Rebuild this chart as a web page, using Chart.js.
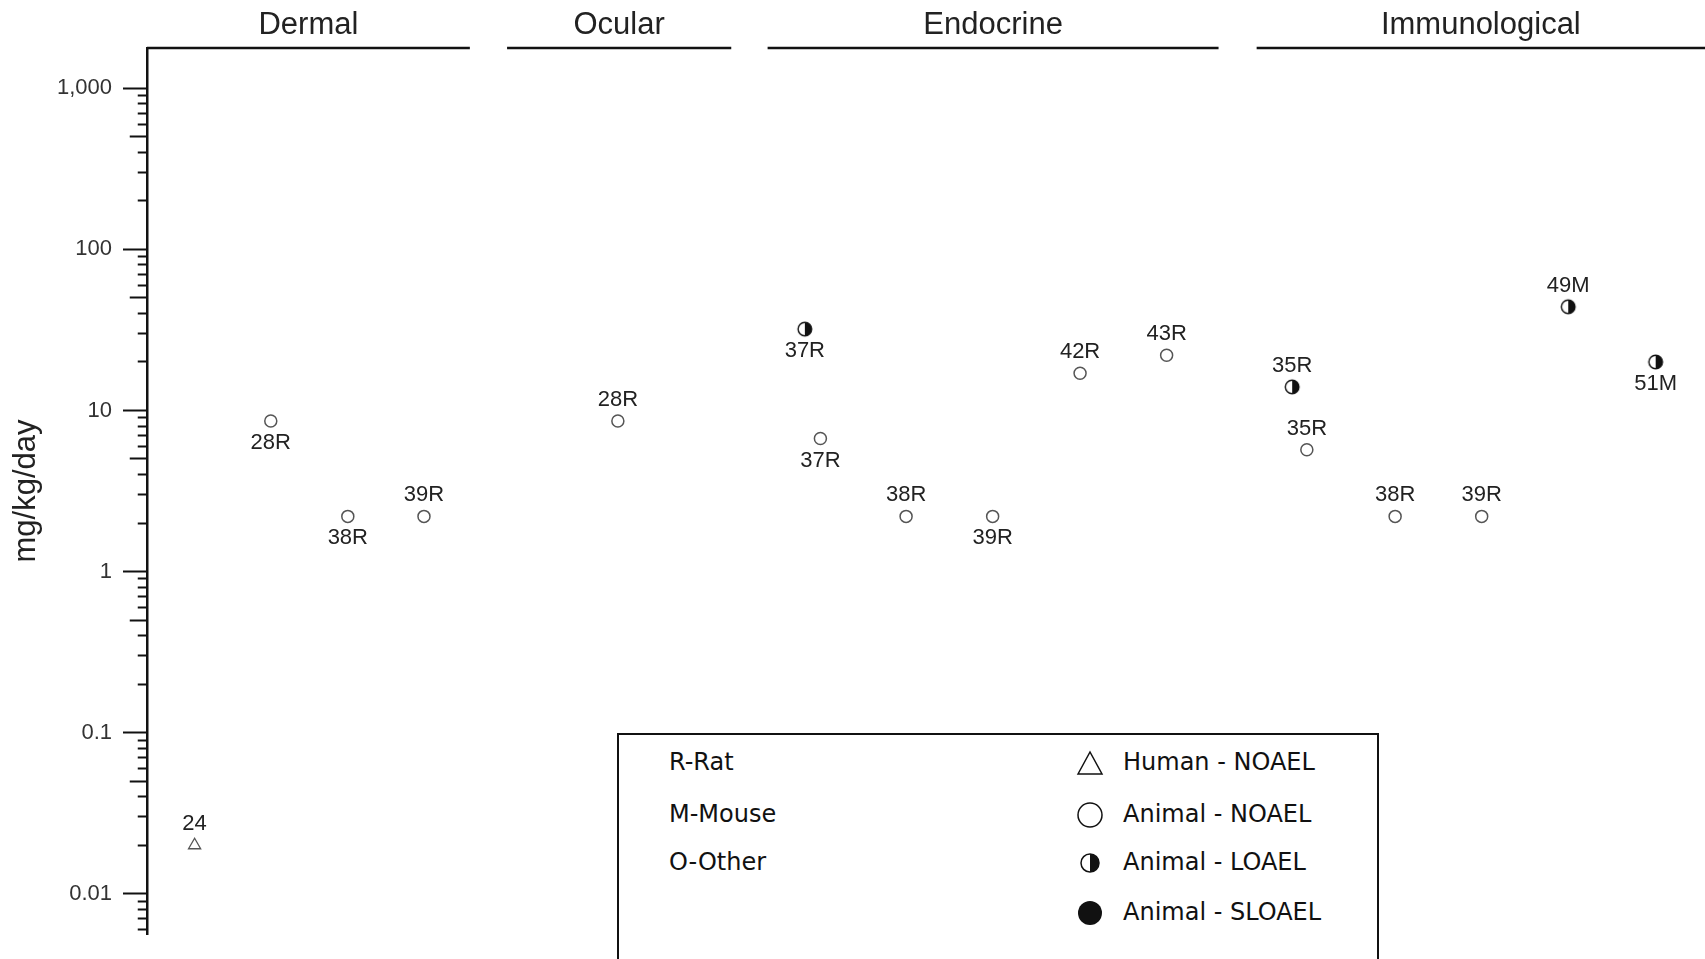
<!DOCTYPE html>
<html>
<head>
<meta charset="utf-8">
<title>Dose levels by endpoint</title>
<script src="https://cdn.jsdelivr.net/npm/chart.js@4.4.1/dist/chart.umd.min.js"></script>
<style>
  html, body { margin: 0; padding: 0; background: #fff; overflow: hidden; }
  #wrap { position: relative; width: 1705px; height: 959px; }
  #chart { position: absolute; left: 0; top: 0; }
  #key {
    position: absolute; left: 617px; top: 733px; width: 758px; height: 260px;
    border: 2px solid #111; background: #fff;
    font-family: "DejaVu Sans", sans-serif; font-size: 24px; color: #111;
  }
  .key-row { position: absolute; height: 30px; line-height: 30px; white-space: nowrap; }
  .key-row svg { position: absolute; top: 0; }
</style>
</head>
<body>
<div id="wrap">
  <canvas id="chart" width="1705" height="959"></canvas>
  <div id="key"></div>
</div>
<script>
// Grupos de endpoints (faixas no eixo x, em colunas)
const groups = ['Dermal', 'Ocular', 'Endocrine', 'Immunological'];
const groupFrom = [0, 4.16, 7.17, 12.82];
const groupTo = [3.73, 6.75, 12.38, 18];

// Um ponto por estudo
const studyX = [0.55, 1.43, 2.32, 3.20, 5.44, 7.60, 7.78, 8.77, 9.77, 10.78, 11.78, 13.23, 13.40, 14.42, 15.42, 16.42, 17.43];
const doses = [0.02, 8.6, 2.2, 2.2, 8.6, 32, 6.7, 2.2, 2.2, 17, 22, 14, 5.7, 2.2, 2.2, 44, 20];
const studyIds = ['24', '28R', '38R', '39R', '28R', '37R', '37R', '38R', '39R', '42R', '43R', '35R', '35R', '38R', '39R', '49M', '51M'];
const endpoints = [
  'Human - NOAEL', 'Animal - NOAEL', 'Animal - NOAEL', 'Animal - NOAEL', 'Animal - NOAEL',
  'Animal - LOAEL', 'Animal - NOAEL', 'Animal - NOAEL', 'Animal - NOAEL', 'Animal - NOAEL',
  'Animal - NOAEL', 'Animal - LOAEL', 'Animal - NOAEL', 'Animal - NOAEL', 'Animal - NOAEL',
  'Animal - LOAEL', 'Animal - LOAEL'
];

// Eixo y (log)
const yTicks = [0.01, 0.1, 1, 10, 100, 1000];
const yTickLabels = ['0.01', '0.1', '1', '10', '100', '1,000'];

// Legenda
const speciesKey = ['R-Rat', 'M-Mouse', 'O-Other'];
const endpointKey = ['Human - NOAEL', 'Animal - NOAEL', 'Animal - LOAEL', 'Animal - SLOAEL'];

// posição do rótulo de cada ponto (estilo, fora dos dados)
const labelBelow = [false, true, true, false, false, true, true, false, true, false, false, false, false, false, false, false, true];

const yMin = Math.pow(10, -2.25);
const yMax = Math.pow(10, 3.25);

// marcador meio preenchido (LOAEL)
function halfCircle(r) {
  const c = document.createElement('canvas');
  const s = Math.ceil(r * 2 + 4);
  c.width = c.height = s;
  const g = c.getContext('2d');
  const m = s / 2;
  g.beginPath(); g.arc(m, m, r, 0, Math.PI * 2); g.fillStyle = '#fff'; g.fill();
  g.beginPath(); g.arc(m, m, r, -Math.PI / 2, Math.PI / 2); g.closePath(); g.fillStyle = '#111'; g.fill();
  g.beginPath(); g.arc(m, m, r, 0, Math.PI * 2); g.lineWidth = 1.4; g.strokeStyle = '#111'; g.stroke();
  return c;
}

const markerStyles = {
  'Human - NOAEL': { pointStyle: 'triangle', pointRadius: 7, borderColor: '#555', backgroundColor: '#fff', borderWidth: 1.3 },
  'Animal - NOAEL': { pointStyle: 'circle', pointRadius: 6, borderColor: '#555', backgroundColor: '#fff', borderWidth: 1.5 },
  'Animal - LOAEL': { pointStyle: halfCircle(6.8), pointRadius: 7, borderColor: '#111', backgroundColor: '#111', borderWidth: 0 }
};

const pointSets = Object.keys(markerStyles).map(kind => {
  const idx = endpoints.map((e, i) => e === kind ? i : -1).filter(i => i >= 0);
  return Object.assign({
    label: kind,
    data: idx.map(i => ({ x: studyX[i], y: doses[i] })),
    studyIds: idx.map(i => studyIds[i]),
    below: idx.map(i => labelBelow[i]),
    showLine: false,
    pointHoverRadius: 7
  }, markerStyles[kind]);
});

// linhas dos cabeçalhos no topo
const headerSets = groups.map((g, i) => ({
  label: g,
  type: 'line',
  data: [{ x: groupFrom[i], y: yMax }, { x: groupTo[i], y: yMax }],
  borderColor: '#111',
  borderWidth: 2.5,
  pointRadius: 0,
  clip: false
}));

const pointLabelPlugin = {
  id: 'pointLabels',
  afterDatasetsDraw(chart) {
    const ctx = chart.ctx;
    ctx.save();
    ctx.font = '22px "Liberation Sans", Arial, sans-serif';
    ctx.fillStyle = '#222';
    ctx.textAlign = 'center';
    ctx.textBaseline = 'middle';
    chart.data.datasets.forEach((ds, di) => {
      if (!ds.studyIds) return;
      chart.getDatasetMeta(di).data.forEach((pt, i) => {
        const dy = ds.below[i] ? 22 : -21;
        ctx.fillText(ds.studyIds[i], pt.x, pt.y + dy);
      });
    });
    ctx.restore();
  }
};

function mantissa(v) {
  return Math.round(v / Math.pow(10, Math.floor(Math.log10(v) + 1e-9)));
}

// o traço do tick vai de fora para dentro: deixa um vazio antes do trecho visível
const TICK_LEN = 24;
const TICK_RUN = TICK_LEN - 1.25;
function tickDash(len) {
  return [0, TICK_RUN - len, len + 60];
}

Chart.defaults.font.family = '"Liberation Sans", Arial, sans-serif';
Chart.defaults.color = '#222';

const chart = new Chart(document.getElementById('chart').getContext('2d'), {
  type: 'scatter',
  data: { datasets: pointSets.concat(headerSets) },
  options: {
    responsive: false,
    devicePixelRatio: 1,
    animation: false,
    layout: {
      autoPadding: false, // sem folga extra para os marcadores: a área vai até a borda direita
      padding: { left: 0, right: 0, top: 0, bottom: 25 }
    },
    scales: {
      x: {
        type: 'linear',
        position: 'top',
        min: 0,
        max: 18,
        grid: { display: false, drawTicks: false },
        border: { display: false },
        afterBuildTicks: (scale) => {
          scale.ticks = groups.map((g, i) => ({ value: (groupFrom[i] + groupTo[i]) / 2 }));
        },
        afterFit: (scale) => {
          scale.height = 48;
          scale.paddingLeft = 0;
          scale.paddingRight = 0;
        },
        ticks: {
          autoSkip: false,
          maxRotation: 0,
          padding: 4,
          color: '#222',
          font: { size: 31 },
          callback: (v, i) => groups[i]
        }
      },
      y: {
        type: 'logarithmic',
        position: 'left',
        min: yMin,
        max: yMax,
        bounds: 'data',
        afterBuildTicks: (scale) => {
          const decades = [0.001].concat(yTicks);
          const list = [];
          decades.forEach(d => {
            for (let m = 1; m <= 9; m++) {
              const v = parseFloat((m * d).toPrecision(6));
              if (v >= yMin && v <= yMax) list.push({ value: v });
            }
          });
          scale.ticks = list;
        },
        afterFit: (scale) => { scale.width = 147; },
        border: { display: true, color: '#111', width: 2.5 },
        grid: {
          drawOnChartArea: false,
          tickLength: TICK_LEN,
          tickWidth: 2,
          tickColor: '#111',
          tickBorderDash: (ctx) => {
            if (!ctx.tick) return [];
            const m = mantissa(ctx.tick.value);
            if (m === 1) return [];
            if (m === 5) return tickDash(16);
            return tickDash(8);
          }
        },
        ticks: {
          autoSkip: false,
          padding: 11,
          color: '#333',
          font: { size: 22 },
          callback: (v) => {
            const k = yTicks.findIndex(t => Math.abs(t - v) / t < 1e-6);
            return k >= 0 ? yTickLabels[k] : '';
          }
        },
        title: {
          display: true,
          text: 'mg/kg/day',
          color: '#222',
          font: { size: 31 },
          padding: { top: 8, bottom: 0 }
        }
      }
    },
    plugins: {
      legend: { display: false },
      tooltip: { enabled: false }
    }
  },
  plugins: [pointLabelPlugin]
});

// Legenda em HTML
const keySymbols = {
  'Human - NOAEL': '<polygon points="3,27 15,5 27,27" fill="#fff" stroke="#111" stroke-width="1.5"/>',
  'Animal - NOAEL': '<circle cx="15" cy="16" r="12" fill="#fff" stroke="#111" stroke-width="1.5"/>',
  'Animal - LOAEL': '<circle cx="15" cy="16" r="9" fill="#fff" stroke="#111" stroke-width="1.5"/><path d="M15,7 A9,9 0 0 1 15,25 Z" fill="#111"/>',
  'Animal - SLOAEL': '<circle cx="15" cy="16" r="12" fill="#111"/>'
};
const rowTops = [12, 64, 112, 162];
const key = document.getElementById('key');
speciesKey.forEach((s, i) => {
  const row = document.createElement('div');
  row.className = 'key-row';
  row.style.left = '50px';
  row.style.top = rowTops[i] + 'px';
  row.textContent = s;
  key.appendChild(row);
});
endpointKey.forEach((s, i) => {
  const row = document.createElement('div');
  row.className = 'key-row';
  row.style.left = '456px';
  row.style.top = rowTops[i] + 'px';
  row.innerHTML = '<svg width="30" height="32" viewBox="0 0 30 32" style="left:0">' + keySymbols[s] + '</svg>';
  const span = document.createElement('span');
  span.style.marginLeft = '48px';
  span.textContent = s;
  row.appendChild(span);
  key.appendChild(row);
});
</script>
</body>
</html>
